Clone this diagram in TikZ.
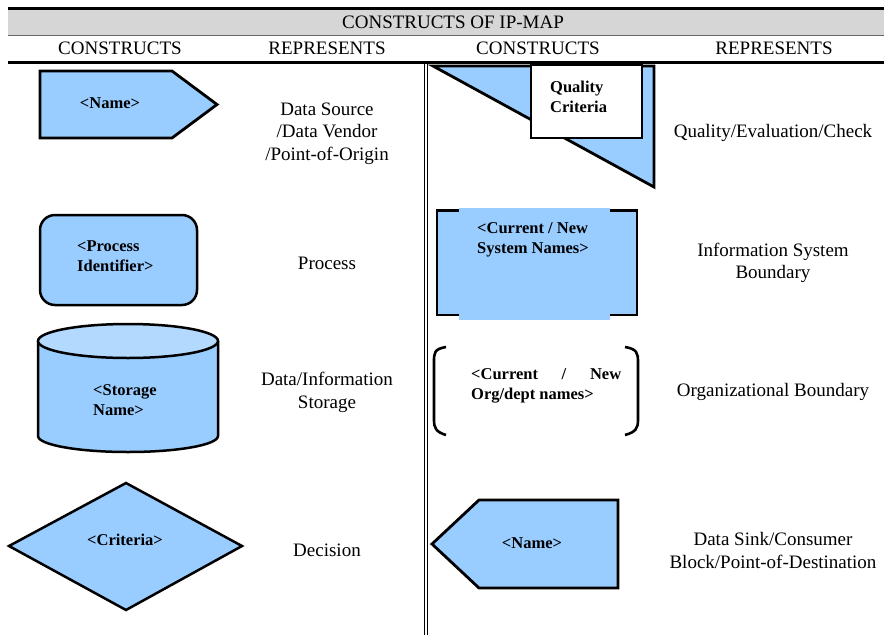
\documentclass[tikz,border=0pt]{standalone}
\usepackage{fontspec}
\setmainfont{Liberation Serif}
\newcommand\regf{\fontsize{19}{22.5}\selectfont}
\newcommand\lblf{\fontsize{16.5}{19.5}\selectfont\bfseries}
\definecolor{shapeblue}{HTML}{99CCFF}
\definecolor{topblue}{HTML}{B3D9FF}
\definecolor{bandgray}{HTML}{D6D6D6}
\begin{document}
\begin{tikzpicture}[x=1pt,y=-1pt,
  shp/.style={draw=black,fill=shapeblue,line width=2.8pt,line join=miter},
  txt/.style={font=\regf,align=center,inner sep=0pt},
  lbl/.style={font=\lblf,align=left,inner sep=0pt},
  rule/.style={line width=2.6pt},
  thinrule/.style={line width=0.9pt}]
\useasboundingbox (0,0) rectangle (884,635);
% header band
\fill[bandgray] (8,10) rectangle (884,35);
\draw[rule] (8,8.5) -- (884,8.5);
\draw[thinrule,draw=black!60] (8,35) -- (884,35);
\draw[rule] (8,62.5) -- (884,62.5);
\draw[thinrule] (424,63) -- (424,635);
\draw[thinrule] (427.5,63) -- (427.5,635);
\node[txt] (title) at (453,22) {CONSTRUCTS OF IP-MAP};
\node[txt] (h1) at (120,48) {CONSTRUCTS};
\node[txt] (h2) at (327,48) {REPRESENTS};
\node[txt] (h3) at (538,48) {CONSTRUCTS};
\node[txt] (h4) at (774,48) {REPRESENTS};
% data source
\draw[shp] (40,71) -- (172,71) -- (217,104.5) -- (172,138) -- (40,138) -- cycle;
\node[font=\lblf,inner sep=0pt] (src) at (110,103) {<Name>};
\node[txt] (srcR) at (327,133.5) {Data Source\\/Data Vendor\\/Point-of-Origin};
% process
\draw[shp,line width=2.5pt,rounded corners=15pt] (40,215) rectangle (197,305);
\node[lbl,anchor=west] (proc) at (77,256) {<Process\\Identifier>};
\node[txt] (procR) at (327,263) {Process};
% storage
\draw[shp,line width=2.5pt] (38,341) -- (38,436) arc[start angle=180,end angle=0,x radius=90,y radius=16] -- (218,341);
\draw[shp,line width=2.5pt,fill=topblue] (128,341) ellipse[x radius=90,y radius=17];
\node[lbl,anchor=west] (stor) at (93,400) {<Storage\\Name>};
\node[txt] (storR) at (327,392.5) {Data/Information\\Storage};
% decision
\draw[shp,line width=2.5pt] (9,546) -- (126,483) -- (242,546) -- (126,610) -- cycle;
\node[font=\lblf,inner sep=0pt] (dec) at (125,540) {<Criteria>};
\node[txt] (decR) at (327,550) {Decision};
% quality
\draw[shp] (433,66) -- (654,66) -- (654,187) -- cycle;
\draw[fill=white,draw=black,line width=1.2pt] (531,65) rectangle (642,138);
\node[lbl,anchor=west] (qual) at (550,97) {Quality\\Criteria};
\node[txt] (qualR) at (773,133) {Quality/Evaluation/Check};
% information system boundary
\draw[shp] (437,210.5) rectangle (637,315);
\fill[shapeblue] (459,208) rectangle (610,319.5);
\node[lbl,anchor=west] (isb) at (477,240) {<Current / New\\System Names>};
\node[txt] (isbR) at (773,263) {Information System\\Boundary};
% organizational boundary
\draw[line width=2.6pt] (446,347) .. controls (434,349) and (434,353) .. (434,362) -- (434,420) .. controls (434,428) and (436,432) .. (446,435);
\draw[line width=2.6pt] (625,347) .. controls (637,349) and (638,353) .. (638,362) -- (638,420) .. controls (638,428) and (636,432) .. (625,435);
\node[lbl,anchor=west] (org) at (471,386) {\hbox to 150pt{<Current\hfill/\hfill New}\\Org/dept names>};
\node[txt] (orgR) at (773,392) {Organizational Boundary};
% data sink
\draw[shp] (432,544) -- (479,500) -- (618,500) -- (618,588) -- (479,588) -- cycle;
\node[font=\lblf,inner sep=0pt] (snk) at (532,543) {<Name>};
\node[txt] (snkR) at (773,550.5) {Data Sink/Consumer\\Block/Point-of-Destination};
\end{tikzpicture}
\end{document}
